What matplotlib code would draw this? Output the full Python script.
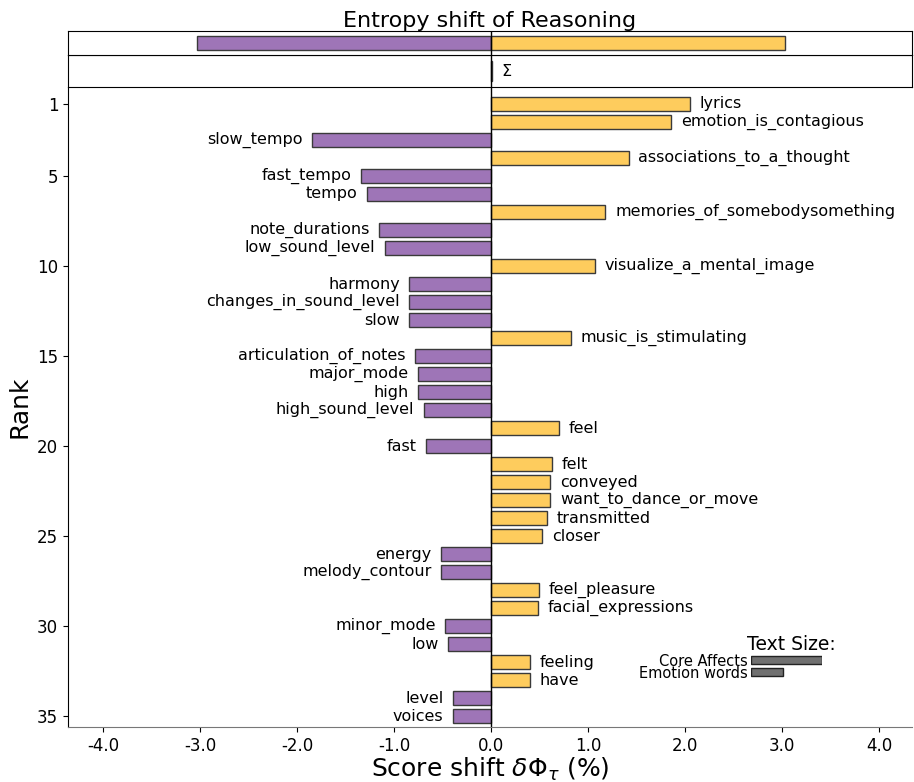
import matplotlib
matplotlib.use("Agg")
import matplotlib.pyplot as plt
import numpy as np

words = ["lyrics", "emotion_is_contagious", "slow_tempo", "associations_to_a_thought",
         "fast_tempo", "tempo", "memories_of_somebodysomething", "note_durations",
         "low_sound_level", "visualize_a_mental_image", "harmony", "changes_in_sound_level",
         "slow", "music_is_stimulating", "articulation_of_notes", "major_mode", "high",
         "high_sound_level", "feel", "fast", "felt", "conveyed", "want_to_dance_or_move",
         "transmitted", "closer", "energy", "melody_contour", "feel_pleasure",
         "facial_expressions", "minor_mode", "low", "feeling", "have", "level", "voices"]
shifts = [2.05, 1.86, -1.84, 1.42, -1.34, -1.28, 1.18, -1.15, -1.09, 1.07,
          -0.84, -0.84, -0.84, 0.82, -0.78, -0.75, -0.75, -0.69, 0.70, -0.67,
          0.63, 0.61, 0.61, 0.58, 0.53, -0.51, -0.51, 0.49, 0.48, -0.47,
          -0.44, 0.40, 0.40, -0.39, -0.39]
total_neg = -3.03
total_pos = 3.03
total_sum = 0.01
legend_labels = ["Core Affects", "Emotion words"]
legend_sizes = [1.0, 0.45]

purple = "#9E75B7"
yellow = "#FECC5D"
edge = "#3a3a3a"

fig = plt.figure(figsize=(9.14, 7.82), dpi=100)
W, H = 914, 782
def fx(px): return px / W
def fy(py): return 1 - py / H

xlim = (-4.36, 4.34)

ax = fig.add_axes([fx(68), fy(727), fx(912) - fx(68), fy(87) - fy(727)])
ax_sum = fig.add_axes([fx(68), fy(87), fx(912) - fx(68), fy(55) - fy(87)])
ax_tot = fig.add_axes([fx(68), fy(55), fx(912) - fx(68), fy(31) - fy(55)])

ranks = np.arange(1, len(words) + 1)
colors = [yellow if s > 0 else purple for s in shifts]
ax.barh(ranks, shifts, height=0.8, color=colors, edgecolor=edge, linewidth=1.0)
off = 0.1
for r, s, w in zip(ranks, shifts, words):
    if s > 0:
        ax.text(s + off, r, w, ha="left", va="center", fontsize=11.5)
    else:
        ax.text(s - off, r, w, ha="right", va="center", fontsize=11.5)
ax.axvline(0, color="black", linewidth=1.0)
ax.set_xlim(xlim)
ax.set_ylim(35.6, 0.06)
ax.set_yticks([1, 5, 10, 15, 20, 25, 30, 35])
ax.set_xticks(np.arange(-4, 5, 1))
ax.set_xticklabels(["%.1f" % v if v >= 0 else "-%.1f" % abs(v) for v in np.arange(-4, 5, 1)])
ax.tick_params(labelsize=12)
ax.spines["top"].set_visible(False)
ax.spines["right"].set_visible(False)
ax.spines["bottom"].set_color("#777777")
ax.set_ylabel("Rank", fontsize=18)
ax.set_xlabel(r"Score shift $\delta \Phi_{\tau}$ (%)", fontsize=18, labelpad=1)

# Total row
ax_tot.barh([0], [total_neg], height=0.6, color=purple, edgecolor=edge, linewidth=1.0)
ax_tot.barh([0], [total_pos], height=0.6, color=yellow, edgecolor=edge, linewidth=1.0)
ax_tot.axvline(0, color="black", linewidth=1.0)
ax_tot.set_xlim(xlim)
ax_tot.set_ylim(-0.5, 0.5)
ax_tot.set_xticks([])
ax_tot.set_yticks([])
ax_tot.set_title("Entropy shift of Reasoning", fontsize=16, pad=3)

# Sum row
ax_sum.barh([0], [total_sum], height=0.6, color=yellow, edgecolor=edge, linewidth=1.0)
ax_sum.text(total_sum + 0.1, 0, "Σ", ha="left", va="center", fontsize=11.5)
ax_sum.axvline(0, color="black", linewidth=1.0)
ax_sum.set_xlim(xlim)
ax_sum.set_ylim(-0.5, 0.5)
ax_sum.set_xticks([])
ax_sum.set_yticks([])

# Text size legend
ax_leg = fig.add_axes([fx(751), fy(678), fx(822) - fx(751), fy(654) - fy(678)])
ax_leg.barh([0, 1], legend_sizes, height=0.6, color="#707070", edgecolor="#222222", linewidth=1.0)
ax_leg.set_xlim(0, 1.0)
ax_leg.set_ylim(1.5, -0.5)
ax_leg.set_xticks([])
ax_leg.set_yticks([0, 1])
ax_leg.set_yticklabels(legend_labels, fontsize=10.5)
ax_leg.tick_params(axis="y", length=0, pad=2)
for sp in ax_leg.spines.values():
    sp.set_visible(False)
ax_leg.text(0.57, 1.0, "Text Size:", transform=ax_leg.transAxes, ha="center", va="bottom", fontsize=13.5)

fig.savefig("out.png", dpi=100)
